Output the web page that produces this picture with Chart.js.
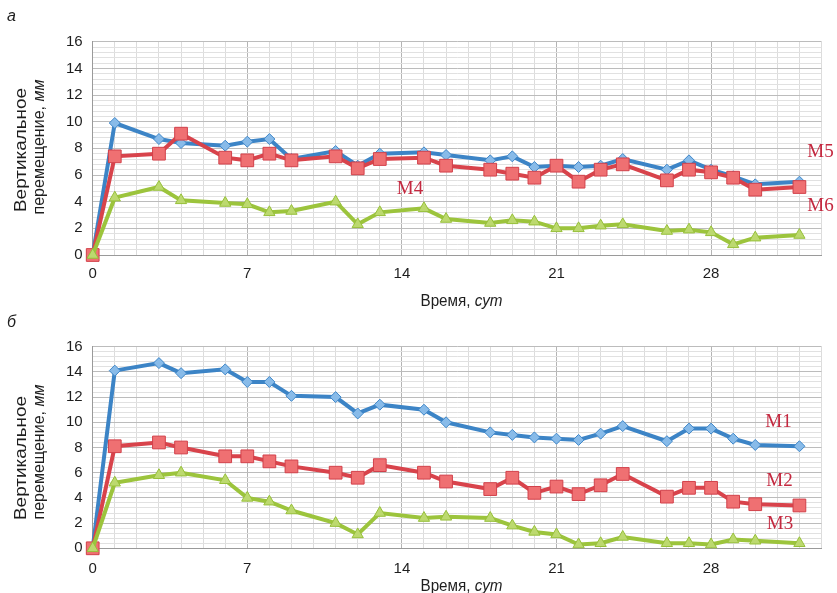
<!DOCTYPE html>
<html>
<head>
<meta charset="utf-8">
<script src="https://cdn.jsdelivr.net/npm/chart.js@4"></script>
<style>
  html, body { margin: 0; padding: 0; background: #fff; width: 837px; height: 593px; overflow: hidden; }
  canvas { position: absolute; left: 0; }
  #chartA { top: 0; }
  #chartB { top: 312px; }
</style>
</head>
<body>
<canvas id="chartA" width="837" height="312"></canvas>
<canvas id="chartB" width="837" height="281"></canvas>
<script>
// Days on which settlement was measured (both panels)
const days = [0, 1, 3, 4, 6, 7, 8, 9, 11, 12, 13, 15, 16, 18, 19, 20, 21, 22, 23, 24, 26, 27, 28, 29, 30, 32];

// Panel а: vertical displacement, mm
const m5 = [0, 9.9, 8.7, 8.4, 8.2, 8.5, 8.7, 7.2, 7.8, 6.7, 7.6, 7.7, 7.5, 7.1, 7.4, 6.6, 6.7, 6.6, 6.7, 7.2, 6.4, 7.1, 6.4, 5.9, 5.3, 5.5];
const m6 = [0, 7.4, 7.6, 9.1, 7.3, 7.1, 7.6, 7.1, 7.4, 6.5, 7.2, 7.3, 6.7, 6.4, 6.1, 5.8, 6.7, 5.5, 6.4, 6.8, 5.6, 6.4, 6.2, 5.8, 4.9, 5.1];
const m4 = [0, 4.3, 5.1, 4.1, 3.9, 3.8, 3.2, 3.3, 4.0, 2.3, 3.2, 3.5, 2.7, 2.4, 2.6, 2.5, 2.0, 2.0, 2.2, 2.3, 1.8, 1.9, 1.7, 0.8, 1.3, 1.5];

// Panel б: vertical displacement, mm
const m1 = [0, 14.1, 14.7, 13.9, 14.2, 13.2, 13.2, 12.1, 12.0, 10.7, 11.4, 11.0, 10.0, 9.2, 9.0, 8.8, 8.7, 8.6, 9.1, 9.7, 8.5, 9.5, 9.5, 8.7, 8.2, 8.1];
const m2 = [0, 8.1, 8.4, 8.0, 7.3, 7.3, 6.9, 6.5, 6.0, 5.6, 6.6, 6.0, 5.3, 4.7, 5.6, 4.4, 4.9, 4.3, 5.0, 5.9, 4.1, 4.8, 4.8, 3.7, 3.5, 3.4];
const m3 = [0, 5.2, 5.8, 6.0, 5.4, 4.0, 3.7, 3.0, 2.0, 1.1, 2.8, 2.4, 2.5, 2.4, 1.8, 1.3, 1.1, 0.3, 0.4, 0.9, 0.4, 0.4, 0.3, 0.7, 0.6, 0.4];

// Axis tick labels
const xTickLabels = [0, 7, 14, 21, 28];
const yTickLabels = [0, 2, 4, 6, 8, 10, 12, 14, 16];

// Series names
const namesA = ['М5', 'М6', 'М4'];
const namesB = ['М1', 'М2', 'М3'];

const SANS = "'Liberation Sans', Arial, sans-serif";
const SERIF = "'Liberation Serif', 'Times New Roman', serif";

const looks = {
  blue:  { line: '#3c84c6', fill: '#88bbe9', edge: '#3f87c9', shape: 'rectRot',  r: 5.5 },
  red:   { line: '#d8434b', fill: '#ef7072', edge: '#d2404a', shape: 'rect',     r: 9 },
  green: { line: '#9cc43c', fill: '#bcd96f', edge: '#97c03a', shape: 'triangle', r: 6.5 }
};

function series(values, look) {
  return {
    data: days.map((d, i) => ({ x: d, y: values[i] })),
    borderColor: look.line,
    borderWidth: 4,
    backgroundColor: look.fill,
    pointStyle: look.shape,
    pointRadius: look.r,
    pointBackgroundColor: look.fill,
    pointBorderColor: look.edge,
    pointBorderWidth: 1,
    tension: 0,
    clip: false
  };
}

// Draws a run of normal / italic pieces squeezed to a given width, centred on 0
function drawRuns(ctx, runs, size, width, baseline) {
  let total = 0;
  const widths = runs.map(r => {
    ctx.font = (r.italic ? 'italic ' : '') + size + 'px ' + SANS;
    const w = ctx.measureText(r.text).width;
    total += w;
    return w;
  });
  ctx.save();
  ctx.translate(-width / 2, baseline);
  ctx.scale(width / total, 1);
  let x = 0;
  runs.forEach((r, i) => {
    ctx.font = (r.italic ? 'italic ' : '') + size + 'px ' + SANS;
    ctx.fillText(r.text, x, 0);
    x += widths[i];
  });
  ctx.restore();
}

function decor(cfg) {
  return {
    id: 'decor',
    afterDraw(chart) {
      const ctx = chart.ctx;
      ctx.save();
      ctx.fillStyle = '#1e1e1e';
      ctx.textBaseline = 'alphabetic';
      ctx.textAlign = 'left';

      // panel letter
      ctx.font = 'italic 16px ' + SANS;
      ctx.fillText(cfg.letter, 7, cfg.letterY);

      // vertical axis title, two lines
      ctx.save();
      ctx.translate(0, cfg.yTitle1);
      ctx.rotate(-Math.PI / 2);
      drawRuns(ctx, [{ text: 'Вертикальное' }], 17, 124, 26);
      ctx.restore();
      ctx.save();
      ctx.translate(0, cfg.yTitle2);
      ctx.rotate(-Math.PI / 2);
      drawRuns(ctx, [{ text: 'перемещение, ' }, { text: 'мм', italic: true }], 17, 135, 44);
      ctx.restore();

      // horizontal axis title
      ctx.save();
      ctx.translate(461.5, 0);
      drawRuns(ctx, [{ text: 'Время, ' }, { text: 'сут', italic: true }], 16, 82, cfg.xTitleY);
      ctx.restore();

      // series names
      ctx.fillStyle = '#c4283f';
      ctx.font = '19px ' + SERIF;
      ctx.textAlign = 'center';
      cfg.tags.forEach(t => ctx.fillText(t.text, t.x, t.y));
      ctx.restore();
    }
  };
}

function near(list, v) {
  return list.some(t => Math.abs(t - v) < 1e-6);
}

function build(id, sets, geo, deco) {
  return new Chart(document.getElementById(id), {
    type: 'line',
    data: { datasets: sets },
    options: {
      responsive: false,
      animation: false,
      events: [],
      layout: { padding: { top: geo.top, right: 837 - geo.right, left: 0, bottom: 0 } },
      plugins: { legend: { display: false }, tooltip: { enabled: false } },
      scales: {
        x: {
          type: 'linear',
          min: 0,
          max: 33,
          afterFit: s => { s.height = geo.h - geo.bottom; },
          ticks: {
            stepSize: 1,
            autoSkip: false,
            maxRotation: 0,
            padding: geo.xPad,
            color: '#1e1e1e',
            font: { family: SANS, size: 15 },
            callback: v => near(xTickLabels, v) ? String(v) : ''
          },
          grid: {
            drawTicks: false,
            lineWidth: 1,
            color: c => (c.tick && c.tick.value % 7 === 0) ? '#b4b4b4' : '#dcdcdc'
          },
          border: { color: '#9a9a9a', width: 1 }
        },
        y: {
          min: 0,
          max: 16,
          afterFit: s => { s.width = geo.left; },
          ticks: {
            stepSize: 0.4,
            autoSkip: false,
            padding: 10,
            color: '#1e1e1e',
            font: { family: SANS, size: 15 },
            callback: v => near(yTickLabels, v) ? String(Math.round(v)) : ''
          },
          grid: {
            drawTicks: false,
            lineWidth: 1,
            color: c => (c.tick && near(yTickLabels, c.tick.value)) ? '#bcbcbc' : '#e1e1e1'
          },
          border: { color: '#9a9a9a', width: 1 }
        }
      }
    },
    plugins: [decor(deco)]
  });
}

// Panel а (red drawn over blue, green on top)
build('chartA',
  [series(m4, looks.green), series(m6, looks.red), series(m5, looks.blue)],
  { h: 312, top: 41.7, bottom: 255, left: 92.7, right: 821.5, xPad: 10 },
  {
    letter: 'а', letterY: 21,
    yTitle1: 150, yTitle2: 147, xTitleY: 306,
    tags: [
      { text: namesA[0], x: 820.5, y: 157 },
      { text: namesA[1], x: 820.5, y: 211 },
      { text: namesA[2], x: 410, y: 194 }
    ]
  });

// Panel б
build('chartB',
  [series(m3, looks.green), series(m2, looks.red), series(m1, looks.blue)],
  { h: 281, top: 34.7, bottom: 236.3, left: 92.7, right: 821.5, xPad: 12 },
  {
    letter: 'б', letterY: 14.5,
    yTitle1: 146, yTitle2: 140, xTitleY: 279,
    tags: [
      { text: namesB[0], x: 778.5, y: 115 },
      { text: namesB[1], x: 779.5, y: 174 },
      { text: namesB[2], x: 780, y: 217 }
    ]
  });
</script>
</body>
</html>
